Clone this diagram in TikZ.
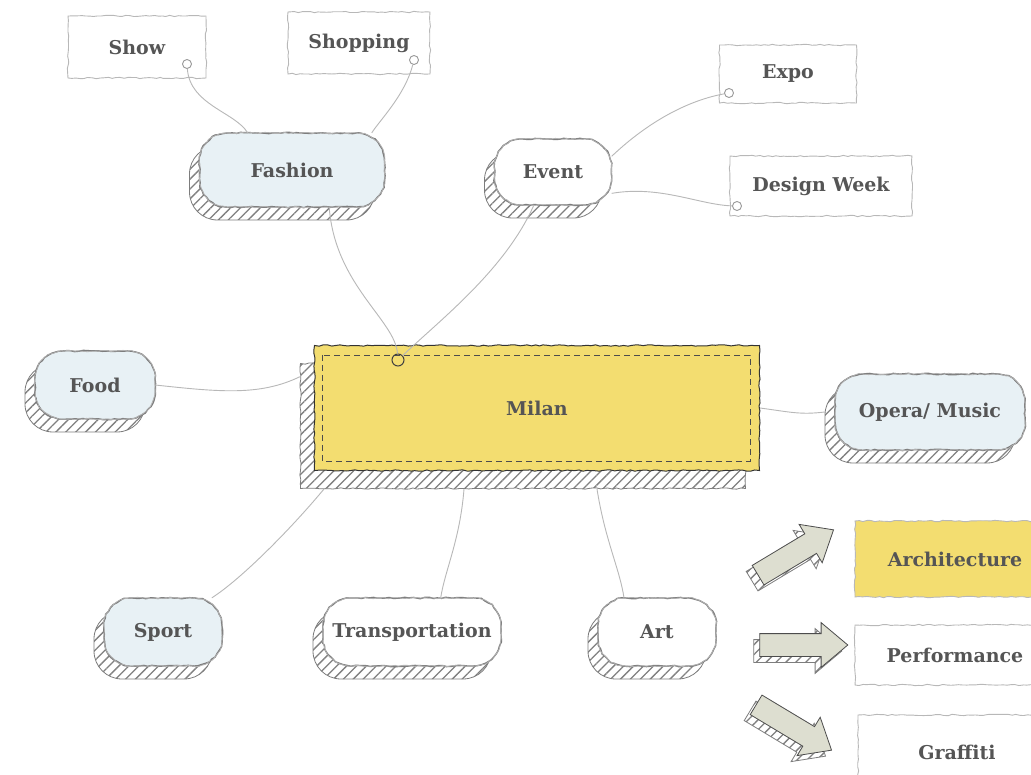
\documentclass[tikz,border=0pt]{standalone}
\usepackage{fontspec}
\setmainfont{DejaVu Serif}
\usetikzlibrary{shapes.arrows,patterns.meta,decorations.pathmorphing}

\definecolor{milanyellow}{RGB}{243,221,112}
\definecolor{paleblue}{RGB}{232,241,245}
\definecolor{arrowgrey}{RGB}{221,222,208}
\definecolor{pencil}{RGB}{125,125,125}
\definecolor{labelgrey}{RGB}{85,85,85}

\newcommand\mapfont{\fontsize{19}{21}\selectfont\bfseries}

\tikzset{
  sketchy/.style={decorate,decoration={random steps,segment length=4pt,amplitude=0.7pt}},
  hatchshadow/.style={preaction={draw=pencil,line width=0.8pt,
      pattern={Lines[angle=45,distance=7pt,line width=1.3pt]},pattern color=black!50,
      transform canvas={shift={#1}}}},
  dims/.style 2 args={minimum width=#1pt,minimum height=#2pt},
  blob/.style={rectangle,rounded corners=28pt,fill=white,inner sep=0pt,
      font=\mapfont,text=labelgrey,hatchshadow={(-10,13)},
      postaction={sharp corners,sketchy,draw=pencil,line width=1.4pt},
      postaction={sharp corners,sketchy,draw=pencil!60,line width=0.8pt}},
  tag/.style={rectangle,draw=black!28,line width=0.9pt,sketchy,fill=white,
      inner sep=0pt,font=\mapfont,text=labelgrey},
  ring/.style={circle,draw=black!40,line width=0.9pt,fill=white,minimum size=9pt,inner sep=0pt},
  link/.style={draw=black!28,line width=0.9pt},
  bigarrow/.style={single arrow,draw=black!70,line width=0.8pt,fill=arrowgrey,
      minimum height=88pt,inner xsep=0pt,inner ysep=11pt,single arrow head extend=11pt,
      single arrow tip angle=80,hatchshadow={(-6,6)}}
}

\begin{document}
\begin{tikzpicture}[x=1pt,y=-1pt]
\useasboundingbox[fill=white] (0,0) rectangle (1031,775);

% top tags
\node[tag,dims={138}{62}] (show) at (137,47) {Show};
\node[tag,dims={142}{62}] (shopping) at (359,43) {Shopping};
\node[tag,dims={137}{58}] (expo) at (788,74) {Expo};
\node[tag,dims={182}{60}] (designweek) at (821,186) {Design Week};
\node[ring] (showring) at (187,64) {};
\node[ring] (shoppingring) at (414,60) {};
\node[ring] (expoing) at (729,93) {};
\node[ring] (designring) at (737,206) {};

% centre
\node[rectangle,draw=black!80,line width=1pt,sketchy,fill=milanyellow,dims={445}{125},
      font=\mapfont,text=labelgrey,hatchshadow={(-14,18)}] (milan) at (537,408) {Milan};
\draw[dashed,black!70,line width=0.9pt,dash pattern=on 6pt off 4pt]
      ([shift={(8,10)}]milan.north west) rectangle ([shift={(-10,-10)}]milan.south east);
\node[circle,draw=black!75,line width=1pt,minimum size=12pt,inner sep=0pt] (milanring) at (398,360) {};

% topics
\node[blob,fill=paleblue,dims={185}{74}] (fashion) at (292,170) {Fashion};
\node[blob,dims={117}{66}] (event) at (553,172) {Event};
\node[blob,fill=paleblue,dims={120}{68}] (food) at (95,385) {Food};
\node[blob,fill=paleblue,dims={190}{76}] (opera) at (930,412) {Opera/ Music};
\node[blob,fill=paleblue,dims={118}{68}] (sport) at (163,632) {Sport};
\node[blob,dims={178}{68}] (transport) at (412,632) {Transportation};
\node[blob,dims={118}{68}] (art) at (657,632) {Art};

% links
\draw[link] (showring) .. controls (190,105) and (235,112) .. (fashion.140);
\draw[link] (shoppingring) .. controls (405,95) and (380,120) .. (fashion.25);
\draw[link] (fashion.-45) .. controls (335,285) and (395,320) .. (milanring);
\draw[link] (event.-120) .. controls (505,270) and (440,320) .. (milanring);
\draw[link] (event.15) .. controls (650,120) and (690,100) .. (expoing);
\draw[link] (event.-20) .. controls (660,185) and (700,205) .. (designring);
\draw[link] (food.east) .. controls (220,392) and (260,396) .. ([xshift=-14pt]milan.172);
\draw[link] (milan.east) .. controls (790,412) and (800,415) .. ([xshift=-10pt]opera.west);
\draw[link] ([shift={(10,18)}]milan.south west) .. controls (290,530) and (240,580) .. (sport.35);
\draw[link] ([shift={(150,18)}]milan.south west) .. controls (460,540) and (445,570) .. (transport.50);
\draw[link] ([shift={(283,18)}]milan.south west) .. controls (605,540) and (620,570) .. (art.134);

% right column
\node[bigarrow,rotate=31] (archarrow) at (790,556) {};
\node[bigarrow] (perfarrow) at (797,645) {};
\node[bigarrow,rotate=-31] (graffarrow) at (788,724) {};
\node[tag,fill=milanyellow,dims={200}{76}] (architecture) at (955,559) {Architecture};
\node[tag,dims={200}{60}] (performance) at (955,655) {Performance};
\node[tag,dims={198}{74}] (graffiti) at (957,752) {Graffiti};
\end{tikzpicture}
\end{document}
